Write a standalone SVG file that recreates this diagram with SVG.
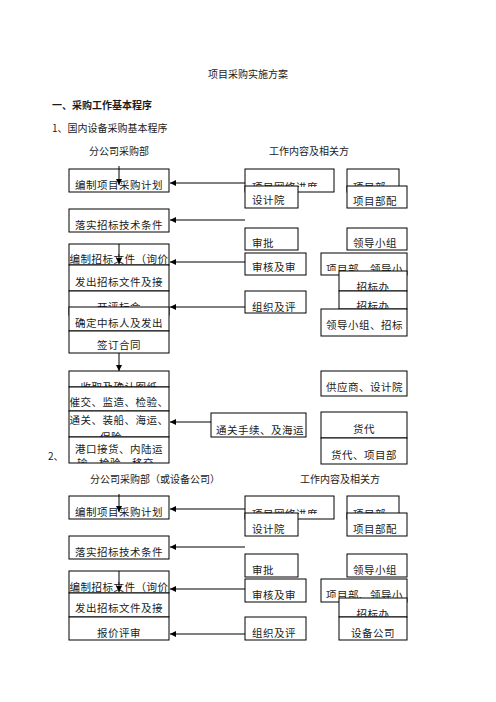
<svg xmlns="http://www.w3.org/2000/svg" width="496" height="702" viewBox="0 0 496 702">
<style>
text{font-family:"Noto Sans CJK SC","Liberation Serif",sans-serif;fill:#1a1a1a}
.t{font-size:10.5px;letter-spacing:0.5px}
.h{font-size:10px}
.b{font-size:10px;font-weight:bold}
.m{text-anchor:middle}
rect{fill:#fff;stroke:#000;stroke-width:1}
.c line{stroke:#000;stroke-width:1}
</style>
<defs>
<marker id="ah" markerUnits="userSpaceOnUse" markerWidth="6" markerHeight="6" refX="6" refY="3" orient="auto"><path d="M0,0 L6,3 L0,6 z" fill="#000"/></marker>
<clipPath id="cB1" clipPathUnits="userSpaceOnUse"><rect x="245" y="169" width="89" height="18"/></clipPath>
<clipPath id="cB3" clipPathUnits="userSpaceOnUse"><rect x="347" y="169" width="52" height="18"/></clipPath>
<clipPath id="cA5" clipPathUnits="userSpaceOnUse"><rect x="69" y="291" width="100" height="16"/></clipPath>
<clipPath id="cA8" clipPathUnits="userSpaceOnUse"><rect x="69" y="371" width="100" height="16"/></clipPath>
<clipPath id="cA10" clipPathUnits="userSpaceOnUse"><rect x="69" y="411" width="100" height="26"/></clipPath>
<clipPath id="cA11" clipPathUnits="userSpaceOnUse"><rect x="69" y="437" width="100" height="26"/></clipPath>
<clipPath id="cB8" clipPathUnits="userSpaceOnUse"><rect x="321" y="253" width="86" height="18"/></clipPath>
<clipPath id="cB9" clipPathUnits="userSpaceOnUse"><rect x="339" y="271" width="68" height="20"/></clipPath>
<clipPath id="cB10" clipPathUnits="userSpaceOnUse"><rect x="339" y="291" width="68" height="18"/></clipPath>
<clipPath id="cE1" clipPathUnits="userSpaceOnUse"><rect x="245" y="496" width="89" height="18"/></clipPath>
<clipPath id="cE3" clipPathUnits="userSpaceOnUse"><rect x="347" y="496" width="52" height="18"/></clipPath>
<clipPath id="cE8" clipPathUnits="userSpaceOnUse"><rect x="321" y="579" width="86" height="19"/></clipPath>
<clipPath id="cE9" clipPathUnits="userSpaceOnUse"><rect x="339" y="598" width="68" height="19"/></clipPath>
</defs>
<rect x="0" y="0" width="496" height="702" style="stroke:none"/>
<g id="titles">
<text class="h m" x="248" y="78">项目采购实施方案</text>
<text class="b" x="52" y="109">一、采购工作基本程序</text>
<text class="h" x="52" y="132">1、国内设备采购基本程序</text>
<text class="h" x="89" y="155">分公司采购部</text>
<text class="h" x="269" y="155">工作内容及相关方</text>
<text class="h" x="48" y="460">2、</text>
<text class="h" x="90" y="483">分公司采购部（或设备公司）</text>
<text class="h" x="300" y="483">工作内容及相关方</text>
</g>
<!-- part 1 left column -->
<g id="A1"><rect x="69" y="169" width="100" height="23"/><text class="t m" x="119" y="189">编制项目采购计划</text></g>
<g id="A2"><rect x="69" y="209" width="100" height="23"/><text class="t m" x="119" y="229">落实招标技术条件</text></g>
<g id="A3"><rect x="69" y="244" width="100" height="21"/><text class="t m" x="119" y="263">编制招标文件（询价</text></g>
<g id="A4"><rect x="69" y="265" width="100" height="26"/><text class="t m" x="119" y="286">发出招标文件及接</text></g>
<g id="A5"><rect x="69" y="291" width="100" height="24"/><text class="t m" x="119" y="311" clip-path="url(#cA5)">开评标会</text></g>
<g id="A6"><rect x="69" y="307" width="100" height="24"/><text class="t m" x="119" y="327">确定中标人及发出</text></g>
<g id="A7"><rect x="69" y="331" width="100" height="22"/><text class="t m" x="119" y="349">签订合同</text></g>
<g id="A8"><rect x="69" y="371" width="100" height="16"/><text class="t m" x="119" y="390.5" clip-path="url(#cA8)">收取及确认图纸</text></g>
<g id="A9"><rect x="69" y="387" width="100" height="24"/><text class="t m" x="119" y="406">催交、监造、检验、</text></g>
<g id="A10"><rect x="69" y="411" width="100" height="26"/><g clip-path="url(#cA10)"><text class="t m" x="119" y="424">通关、装船、海运、</text><text class="t m" x="111" y="441">保险</text></g></g>
<g id="A11"><rect x="69" y="437" width="100" height="26"/><g clip-path="url(#cA11)"><text class="t m" x="119" y="453">港口接货、内陆运</text><text class="t" x="77" y="467">输、检验、移交</text></g></g>
<!-- part 1 right column -->
<g id="B1"><rect x="245" y="169" width="89" height="23"/><text class="t" x="252" y="191" clip-path="url(#cB1)">项目网络进度</text></g>
<g id="B2"><rect x="245" y="186" width="53" height="22"/><text class="t" x="252" y="204">设计院</text></g>
<g id="B3"><rect x="347" y="169" width="52" height="23"/><text class="t" x="353" y="191" clip-path="url(#cB3)">项目部</text></g>
<g id="B4"><rect x="347" y="186" width="60" height="22"/><text class="t" x="353" y="205">项目部配</text></g>
<g id="B5"><rect x="245" y="228" width="53" height="22"/><text class="t" x="252" y="247">审批</text></g>
<g id="B6"><rect x="245" y="253" width="61" height="22"/><text class="t" x="252" y="271">审核及审</text></g>
<g id="B7"><rect x="347" y="228" width="60" height="22"/><text class="t" x="353" y="247">领导小组</text></g>
<g id="B8"><rect x="321" y="253" width="86" height="22"/><text class="t" x="326" y="272.5" clip-path="url(#cB8)">项目部、领导小</text></g>
<g id="B12"><rect x="245" y="291" width="61" height="22"/><text class="t" x="252" y="311">组织及评</text></g>
<g id="B9"><rect x="339" y="271" width="68" height="20"/><text class="t m" x="373" y="290.5" clip-path="url(#cB9)">招标办</text></g>
<g id="B10"><rect x="339" y="291" width="68" height="18"/><text class="t m" x="373" y="310" clip-path="url(#cB10)">招标办</text></g>
<g id="B11"><rect x="321" y="309" width="86" height="27"/><text class="t" x="326" y="329">领导小组、招标</text></g>
<g id="C1"><rect x="321" y="371" width="86" height="25"/><text class="t" x="326" y="391">供应商、设计院</text></g>
<g id="C2"><rect x="211" y="413" width="95" height="24"/><text class="t" x="216" y="434">通关手续、及海运</text></g>
<g id="C3"><rect x="321" y="412" width="86" height="26"/><text class="t m" x="364" y="433">货代</text></g>
<g id="C4"><rect x="321" y="438" width="86" height="26"/><text class="t m" x="364" y="459">货代、项目部</text></g>
<!-- part 2 left column -->
<g id="D1"><rect x="69" y="496" width="100" height="23"/><text class="t m" x="119" y="516">编制项目采购计划</text></g>
<g id="D2"><rect x="69" y="536" width="100" height="23"/><text class="t m" x="119" y="556">落实招标技术条件</text></g>
<g id="D3"><rect x="69" y="571" width="100" height="22"/><text class="t m" x="119" y="591">编制招标文件（询价</text></g>
<g id="D4"><rect x="69" y="593" width="100" height="24"/><text class="t m" x="119" y="612">发出招标文件及接</text></g>
<g id="D5"><rect x="69" y="617" width="100" height="23"/><text class="t m" x="119" y="637">报价评审</text></g>
<!-- part 2 right column -->
<g id="E1"><rect x="245" y="496" width="89" height="23"/><text class="t" x="252" y="518" clip-path="url(#cE1)">项目网络进度</text></g>
<g id="E2"><rect x="245" y="513" width="53" height="23"/><text class="t" x="252" y="533">设计院</text></g>
<g id="E3"><rect x="347" y="496" width="52" height="23"/><text class="t" x="353" y="518" clip-path="url(#cE3)">项目部</text></g>
<g id="E4"><rect x="347" y="513" width="60" height="23"/><text class="t" x="353" y="533">项目部配</text></g>
<g id="E5"><rect x="245" y="554" width="53" height="23"/><text class="t" x="252" y="574">审批</text></g>
<g id="E6"><rect x="245" y="579" width="61" height="23"/><text class="t" x="252" y="599">审核及审</text></g>
<g id="E7"><rect x="347" y="554" width="60" height="23"/><text class="t" x="353" y="574">领导小组</text></g>
<g id="E8"><rect x="321" y="579" width="86" height="23"/><text class="t" x="326" y="599" clip-path="url(#cE8)">项目部、领导小</text></g>
<g id="E11"><rect x="245" y="617" width="61" height="23"/><text class="t" x="252" y="637">组织及评</text></g>
<g id="E9"><rect x="339" y="598" width="68" height="19"/><text class="t m" x="373" y="617.5" clip-path="url(#cE9)">招标办</text></g>
<g id="E10"><rect x="339" y="617" width="68" height="23"/><text class="t m" x="373" y="637">设备公司</text></g>
<g id="connectors" class="c">
<line x1="119" y1="166" x2="119" y2="185" marker-end="url(#ah)"/>
<line x1="119" y1="244" x2="119" y2="264" marker-end="url(#ah)"/>
<line x1="119" y1="353" x2="119" y2="371" marker-end="url(#ah)"/>
<line x1="245" y1="183" x2="170" y2="183" marker-end="url(#ah)"/>
<line x1="245" y1="220" x2="170" y2="220" marker-end="url(#ah)"/>
<line x1="245" y1="262" x2="170" y2="262" marker-end="url(#ah)"/>
<line x1="245" y1="307" x2="170" y2="307" marker-end="url(#ah)"/>
<line x1="211" y1="422" x2="170" y2="422" marker-end="url(#ah)"/>
<line x1="119" y1="494" x2="119" y2="512" marker-end="url(#ah)"/>
<line x1="119" y1="571" x2="119" y2="592" marker-end="url(#ah)"/>
<line x1="245" y1="509" x2="170" y2="509" marker-end="url(#ah)"/>
<line x1="245" y1="547" x2="170" y2="547" marker-end="url(#ah)"/>
<line x1="245" y1="589" x2="170" y2="589" marker-end="url(#ah)"/>
<line x1="245" y1="634" x2="170" y2="634" marker-end="url(#ah)"/>
</g>
</svg>
